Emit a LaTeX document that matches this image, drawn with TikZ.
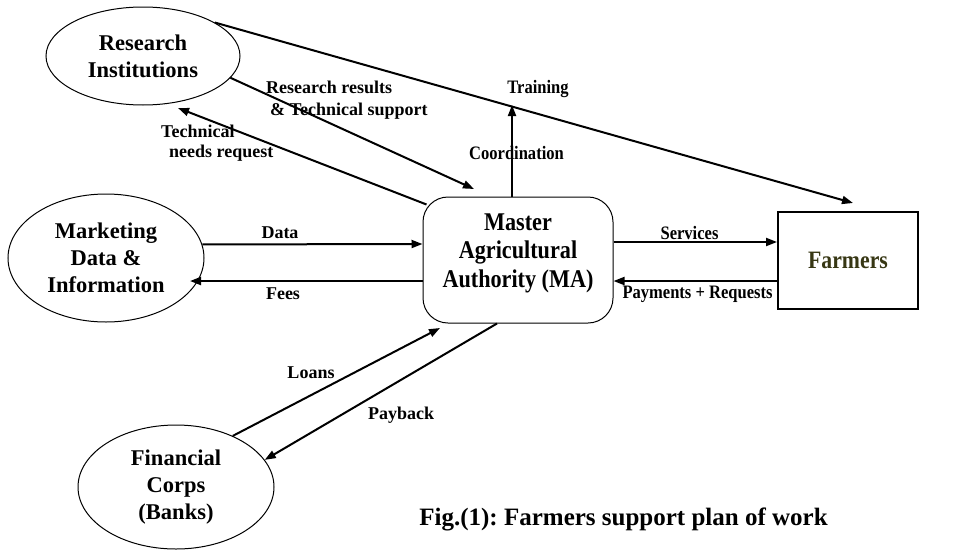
\documentclass[tikz,border=0pt]{standalone}
\usepackage{fontspec}
\setmainfont{Liberation Serif}
\newfontfamily\condfont{Liberation Serif}[FakeStretch=0.87]
\usetikzlibrary{arrows.meta,shapes.geometric,calc}
\definecolor{farmcol}{RGB}{55,55,20}
\begin{document}
\frenchspacing
\begin{tikzpicture}[x=1pt,y=-1pt,
  bigtxt/.style={font=\bfseries\fontsize{22.5}{27}\selectfont, align=center},
  lbl/.style={font=\bfseries\fontsize{18}{20}\selectfont, inner sep=0pt},
  lbls/.style={font=\condfont\bfseries\fontsize{19}{21}\selectfont, inner sep=0pt},
  oval/.style={draw, ellipse, line width=1pt, inner sep=0pt, bigtxt},
  flow/.style={line width=2pt, -{Triangle[length=11pt,width=8pt]}},
]
\useasboundingbox (0,0) rectangle (973,549);
% nodes
\node[oval, minimum width=194pt, minimum height=98pt] (RI) at (143,56) {Research\\Institutions};
\node[oval, minimum width=196pt, minimum height=128pt] (MK) at (106,258) {Marketing\\Data \&\\Information};
\node[oval, minimum width=196pt, minimum height=124pt] (FC) at (176,487) {Financial\\Corps\\(Banks)};
\node[draw, rounded corners=25pt, minimum width=190pt, minimum height=126pt, line width=1pt, inner sep=0pt] (MA) at (518,260) {};
\node[bigtxt, font=\condfont\bfseries\fontsize{25.5}{28.5}\selectfont] (MAt) at (518,253) {Master\\Agricultural\\Authority (MA)};
\node[draw, line width=2pt, minimum width=140pt, minimum height=97pt, bigtxt, font=\condfont\bfseries\fontsize{25}{28}\selectfont, text=farmcol] (F) at (848,260.5) {Farmers};
% free ends
\coordinate (RFend) at (853,203);
\coordinate (RRend) at (474,189);
\coordinate (TNend) at (178,108);
\coordinate (TRend) at (512,105);
\coordinate (FEend) at (190,281);
\coordinate (LOend) at (440,328);
% connectors
\draw[flow] (RI.25) -- (RFend);
\draw[flow] (RI.-14) -- (RRend);
\draw[flow] ($(MA.north west)+(4,8)$) -- (TNend);
\draw[flow] ([xshift=-6pt]MA.north) -- (TRend);
\draw[flow] (MK.8) -- ([yshift=16pt]MA.west);
\draw[flow] ([yshift=-21pt]MA.west) -- (FEend);
\draw[flow] ([yshift=18pt]MA.east) -- ([yshift=18.5pt]F.west);
\draw[flow] ([yshift=-20.5pt]F.west) -- ([yshift=-21pt]MA.east);
\draw[flow] (FC.42) -- (LOend);
\draw[flow] ([xshift=-21pt]MA.south) -- (FC.17);
% labels
\node[lbl, align=left, anchor=west, font=\bfseries\fontsize{18}{22}\selectfont] (RRl) at (266,100) {Research results\\\hspace{4pt}\& Technical support};
\node[lbl, align=left, anchor=west] (TNl) at (161,143) {Technical\\\hspace{8pt}needs request};
\node[lbls] (TRl) at (538,89) {Training};
\node[lbls] (COl) at (516.5,153) {Coordination};
\node[lbl] (DAl) at (280,233) {Data};
\node[lbl] (FEl) at (283,294) {Fees};
\node[lbls] (SEl) at (689.5,233) {Services};
\node[lbls] (PRl) at (697.5,294) {Payments + Requests};
\node[lbl] (LOl) at (311,373) {Loans};
\node[lbl] (PBl) at (401,415) {Payback};
\node[font=\bfseries\fontsize{25}{30}\selectfont, inner sep=0pt] (cap) at (623.5,519) {Fig.(1): Farmers support plan of work};
\end{tikzpicture}
\end{document}
